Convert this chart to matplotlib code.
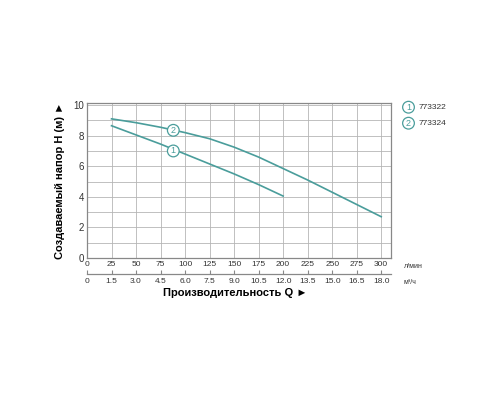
import matplotlib
matplotlib.use("Agg")
import matplotlib.pyplot as plt

plt.rcParams['font.family'] = ['Liberation Sans Narrow', 'Liberation Sans', 'DejaVu Sans']

# data
q1 = [25, 50, 75, 100, 125, 150, 175, 200]
h1 = [8.65, 8.05, 7.45, 6.8, 6.15, 5.5, 4.8, 4.05]
q2 = [25, 50, 75, 100, 125, 150, 175, 200, 225, 250, 275, 300]
h2 = [9.1, 8.85, 8.55, 8.2, 7.8, 7.25, 6.6, 5.85, 5.1, 4.3, 3.5, 2.7]
lmin_ticks = [0, 25, 50, 75, 100, 125, 150, 175, 200, 225, 250, 275, 300]
m3h_labels = ["0", "1.5", "3.0", "4.5", "6.0", "7.5", "9.0", "10.5", "12.0",
              "13.5", "15.0", "16.5", "18.0"]
models = ["773322", "773324"]

teal = "#4a9d9b"
grid_c = "#b5b5b5"

fig = plt.figure(figsize=(5, 4), dpi=100)
ax = fig.add_axes([0.174, 0.355, 0.608, 0.388])
ax.plot(q1, h1, color=teal, lw=1.2)
ax.plot(q2, h2, color=teal, lw=1.2)
ax.set_xlim(0, 310)
ax.set_ylim(0, 10.15)
ax.set_xticks(lmin_ticks)
ax.set_yticks(range(0, 11, 2))
ax.set_yticks(range(1, 11, 2), minor=True)
ax.grid(True, which="both", color=grid_c, lw=0.6)
ax.tick_params(axis="both", which="both", length=0, labelsize=6, colors="#333333", pad=2)
ax.tick_params(axis="y", labelsize=7)
for s in ax.spines.values():
    s.set_color("#888888")
    s.set_linewidth(0.9)
ax.set_ylabel("Создаваемый напор H (м) \u25ba", fontsize=8, fontweight="bold", labelpad=6)

# curve number markers
for (xq, yh, n) in [(88, 7.0, "1"), (88, 8.35, "2")]:
    ax.text(xq, yh, n, fontsize=6.5, color=teal, ha="center", va="center",
            bbox=dict(boxstyle="circle,pad=0.15", fc="white", ec=teal, lw=0.9))

# second scale in m3/h
ax2 = fig.add_axes([0.174, 0.315, 0.608, 0.001])
ax2.set_xlim(0, 310)
ax2.set_yticks([])
for k in ["top", "left", "right"]:
    ax2.spines[k].set_visible(False)
ax2.spines["bottom"].set_color("#888888")
ax2.spines["bottom"].set_linewidth(0.9)
ax2.set_xticks(lmin_ticks)
ax2.set_xticklabels(m3h_labels)
ax2.tick_params(axis="x", direction="in", length=3, color="#888888", labelsize=6,
                labelcolor="#333333", pad=3)
ax2.patch.set_alpha(0)

fig.text(0.47, 0.268, "Производительность Q \u25ba", fontsize=8, fontweight="bold",
         ha="center", va="center")
fig.text(0.808, 0.333, "л/мин", fontsize=5, color="#333333", ha="left", va="center")
fig.text(0.808, 0.293, "м³/ч", fontsize=5, color="#333333", ha="left", va="center")

# legend
for i, m in enumerate(models):
    yy = 0.732 - i * 0.04
    fig.text(0.817, yy, str(i + 1), fontsize=6.5, color=teal, ha="center", va="center",
             bbox=dict(boxstyle="circle,pad=0.15", fc="white", ec=teal, lw=0.9))
    fig.text(0.838, yy, m, fontsize=6, color="#333333", ha="left", va="center")

fig.savefig("out.png", dpi=100, facecolor="white")
